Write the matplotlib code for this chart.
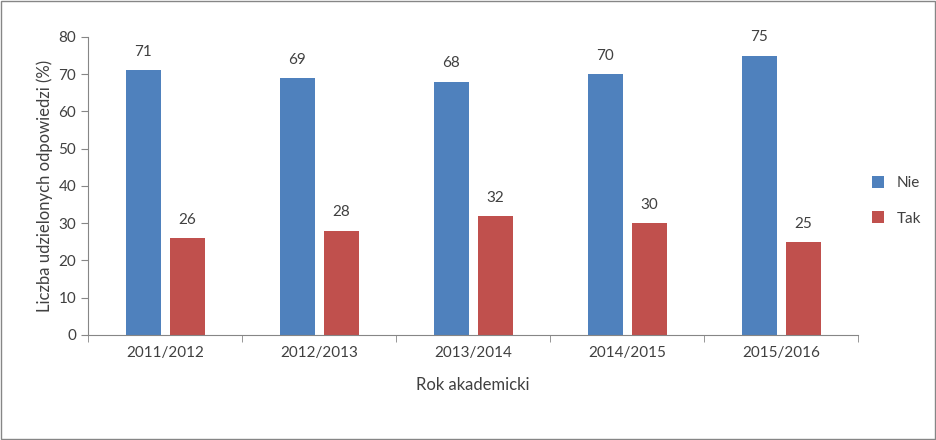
import matplotlib
matplotlib.use("Agg")
import matplotlib.pyplot as plt
import numpy as np

years = ["2011/2012", "2012/2013", "2013/2014", "2014/2015", "2015/2016"]
nie = [71, 69, 68, 70, 75]
tak = [26, 28, 32, 30, 25]

plt.rcParams['font.family'] = ['Lato', 'DejaVu Sans']

fig = plt.figure(figsize=(9.37, 4.40), dpi=100)
ax = fig.add_axes([0.094, 0.239, 0.822, 0.677])

x = np.arange(len(years))
w = 0.227
b1 = ax.bar(x - 0.143, nie, w, color="#4F81BD", label="Nie")
b2 = ax.bar(x + 0.143, tak, w, color="#C0504D", label="Tak")
for bars in (b1, b2):
    for r in bars:
        ax.text(r.get_x() + r.get_width() / 2, r.get_height() + 3, f"{r.get_height():.0f}",
                ha="center", va="bottom", fontsize=11, color="#404040")

ax.set_xlim(-0.5, len(years) - 0.5)
ax.set_ylim(0, 80)
ax.set_yticks(range(0, 81, 10))
ax.set_xticks(x)
ax.set_xticklabels(years)
ax.set_xticks(np.arange(-0.5, len(years)), minor=True)
ax.tick_params(axis="x", which="major", length=0, pad=8)
ax.tick_params(axis="x", which="minor", length=5, color="#868686")
ax.tick_params(axis="y", length=5, color="#868686")
ax.tick_params(labelsize=11, labelcolor="#404040")
for s in ("top", "right"):
    ax.spines[s].set_visible(False)
for s in ("left", "bottom"):
    ax.spines[s].set_color("#868686")
ax.set_xlabel("Rok akademicki", fontsize=12, color="#404040", labelpad=12)
ax.set_ylabel("Liczba udzielonych odpowiedzi (%)", fontsize=12, color="#404040")

ax.legend(loc="center left", bbox_to_anchor=(1.0, 0.45), frameon=False, fontsize=11,
          handlelength=0.8, handleheight=0.8, labelspacing=1.4, labelcolor="#404040")

fig.patches.append(plt.Rectangle((0.001, 0.002), 0.997, 0.995, transform=fig.transFigure,
                                 fill=False, edgecolor="#868686", linewidth=1))
fig.savefig("out.png", dpi=100)
